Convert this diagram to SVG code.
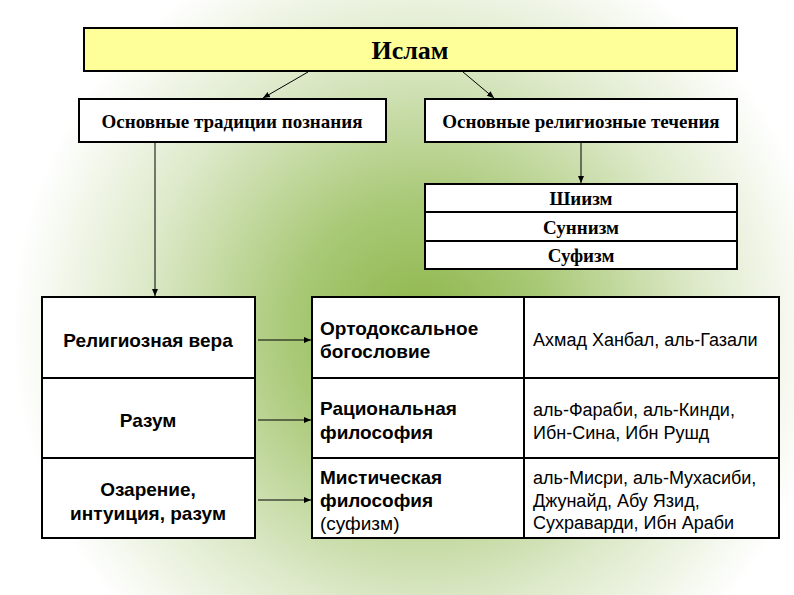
<svg xmlns="http://www.w3.org/2000/svg" width="794" height="595" viewBox="0 0 794 595">
<defs>
<radialGradient id="bg" cx="420" cy="330" r="430" gradientUnits="userSpaceOnUse">
<stop offset="0" stop-color="#8cb548"/>
<stop offset="0.3" stop-color="#a9c977"/>
<stop offset="0.65" stop-color="#dde9c9"/>
<stop offset="0.95" stop-color="#ffffff"/>
</radialGradient>
<marker id="ar" markerWidth="8" markerHeight="8" refX="7" refY="4" orient="auto" markerUnits="userSpaceOnUse"><path d="M0,1 L7,4 L0,7 Z" fill="#000"/></marker>
<style>
.b{fill:#fff;stroke:#000;stroke-width:2}
.s{font-family:"Liberation Serif",serif;font-weight:bold;font-size:19px;text-anchor:middle}
.a{font-family:"Liberation Sans",sans-serif;font-size:19px}
.n{font-size:18px}
.ab{font-weight:bold}
.c{stroke:#000;stroke-width:1;fill:none;marker-end:url(#ar)}
</style>
</defs>
<rect width="794" height="595" fill="url(#bg)"/>
<g id="islam"><rect x="84" y="28" width="653" height="43" fill="#ffff99" stroke="#000" stroke-width="2"/><text x="410" y="59" class="s" style="font-size:26px">Ислам</text></g>
<g id="trad"><rect class="b" x="79" y="99" width="307" height="43"/><text x="232" y="128" class="s">Основные традиции познания</text></g>
<g id="tech"><rect class="b" x="425" y="99" width="312" height="43"/><text x="581" y="128" class="s">Основные религиозные течения</text></g>
<g id="shiism"><rect class="b" x="425" y="184" width="312" height="28"/><text x="581" y="205" class="s">Шиизм</text></g>
<g id="sunnism"><rect class="b" x="425" y="212" width="312" height="29"/><text x="581" y="234" class="s">Суннизм</text></g>
<g id="sufism"><rect class="b" x="425" y="241" width="312" height="28"/><text x="581" y="262" class="s">Суфизм</text></g>
<g id="left" class="a ab" text-anchor="middle">
<rect class="b" x="42" y="297" width="213" height="81"/><text x="148" y="347">Религиозная вера</text>
<rect class="b" x="42" y="378" width="213" height="80"/><text x="148" y="427">Разум</text>
<rect class="b" x="42" y="458" width="213" height="80"/><text x="148" y="496">Озарение,</text><text x="148" y="520">интуиция, разум</text>
</g>
<g id="right" class="a">
<rect class="b" x="312" y="297" width="212" height="81"/><rect class="b" x="524" y="297" width="255" height="81"/>
<rect class="b" x="312" y="378" width="212" height="80"/><rect class="b" x="524" y="378" width="255" height="80"/>
<rect class="b" x="312" y="458" width="212" height="80"/><rect class="b" x="524" y="458" width="255" height="80"/>
<text x="320" y="335" class="ab">Ортодоксальное</text><text x="320" y="358" class="ab">богословие</text>
<text x="320" y="415" class="ab">Рациональная</text><text x="320" y="439" class="ab">философия</text>
<text x="320" y="484" class="ab">Мистическая</text><text x="320" y="507" class="ab">философия</text><text x="320" y="530">(суфизм)</text>
<text x="533" y="346" class="n">Ахмад Ханбал, аль-Газали</text>
<text x="533" y="416" class="n">аль-Фараби, аль-Кинди,</text><text x="533" y="439" class="n">Ибн-Сина, Ибн Рушд</text>
<text x="533" y="484" class="n">аль-Мисри, аль-Мухасиби,</text><text x="533" y="507" class="n">Джунайд, Абу Язид,</text><text x="533" y="529" class="n">Сухраварди, Ибн Араби</text>
</g>
<g id="connectors">
<line class="c" x1="308" y1="72" x2="263" y2="98"/>
<line class="c" x1="463" y1="72" x2="494" y2="98"/>
<line class="c" x1="155" y1="143" x2="155" y2="296"/>
<line class="c" x1="581" y1="143" x2="581" y2="183"/>
<line class="c" x1="258" y1="340" x2="311" y2="340"/>
<line class="c" x1="258" y1="420" x2="311" y2="420"/>
<line class="c" x1="258" y1="500" x2="311" y2="500"/>
</g>
</svg>
